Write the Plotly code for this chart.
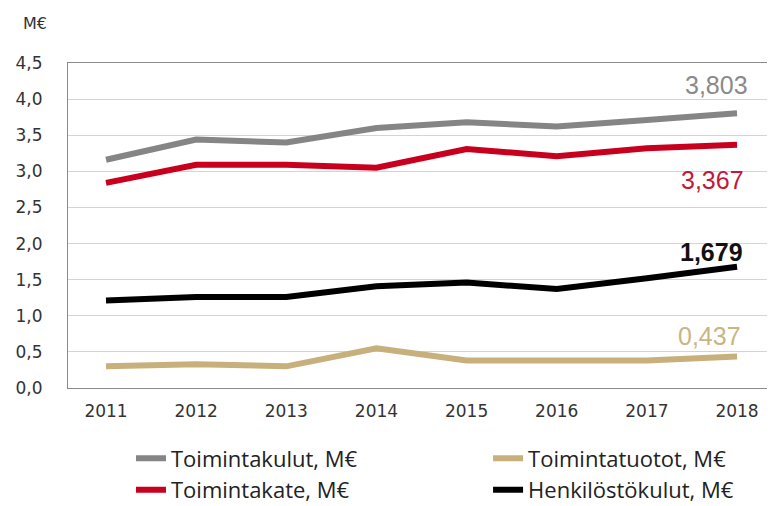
import plotly.graph_objects as go

years = ["2011", "2012", "2013", "2014", "2015", "2016", "2017", "2018"]
toimintakulut = [3.16, 3.44, 3.40, 3.60, 3.68, 3.62, 3.71, 3.803]
toimintakate = [2.84, 3.09, 3.09, 3.05, 3.31, 3.21, 3.32, 3.367]
henkilostokulut = [1.21, 1.26, 1.26, 1.41, 1.46, 1.37, 1.52, 1.679]
toimintatuotot = [0.30, 0.33, 0.30, 0.55, 0.38, 0.38, 0.38, 0.437]

names = ["Toimintakulut, M€", "Toimintatuotot, M€", "Toimintakate, M€", "Henkilöstökulut, M€"]
series = [toimintakulut, toimintatuotot, toimintakate, henkilostokulut]
colors = ["#858585", "#c8b07c", "#c8001e", "#000000"]
legend_ids = ["legend", "legend2", "legend", "legend2"]
label_colors = ["#8a8a8a", "#c9b583", "#c2183a", "#111111"]
end_labels = ["3,803", "0,437", "3,367", "1,679"]
label_dy = [28, 20, -35, 15]
label_dx = [13, 6, 9, 8]

fig = go.Figure()
for n, s, c, lg in zip(names, series, colors, legend_ids):
    fig.add_trace(go.Scatter(x=years, y=s, name=n, mode="lines", legend=lg,
                             line=dict(color=c, width=6)))

last = len(years) - 1
for s, c, lab, dy, dx in zip(series, label_colors, end_labels, label_dy, label_dx):
    txt = ("<b>%s</b>" % lab) if c == "#111111" else lab
    fig.add_annotation(x=last, y=s[-1], text=txt, showarrow=False,
                       xanchor="right", yanchor="middle", yshift=dy, xshift=dx,
                       font=dict(family="Liberation Sans, Arial", size=25, color=c))

fig.add_annotation(xref="paper", yref="paper", x=-0.047, y=1.123, text="M€",
                   showarrow=False, xanchor="center", yanchor="middle",
                   font=dict(family="DejaVu Sans", size=16, color="#333"))

legend_style = dict(orientation="v", xanchor="left", y=-0.152, yanchor="top",
                    tracegroupgap=0, bgcolor="rgba(0,0,0,0)",
                    font=dict(family="Open Sans", size=22, color="#222"))

fig.update_layout(
    width=767, height=540,
    margin=dict(l=60, r=1, t=55, b=160),
    paper_bgcolor="white", plot_bgcolor="white",
    font=dict(family="DejaVu Sans", size=17, color="#333"),
    showlegend=True,
    separators=",.",
    legend=dict(x=0.0892, **legend_style),
    legend2=dict(x=0.595, **legend_style),
)
fig.update_xaxes(type="category", range=[-0.4216, 7.41], showgrid=False,
                 showline=True, linecolor="#8a8a8a", linewidth=1, mirror=True,
                 ticks="", ticklabelstandoff=8,
                 tickfont=dict(family="DejaVu Sans", size=17, color="#333"))
fig.update_yaxes(range=[0, 4.5], dtick=0.5, tickformat=".1f",
                 showgrid=True, gridcolor="#d4d4d4", gridwidth=1,
                 showline=True, linecolor="#8a8a8a", linewidth=1, mirror=True,
                 ticks="", ticklabelstandoff=21,
                 tickfont=dict(family="DejaVu Sans", size=17, color="#333"),
                 zeroline=False)

fig.write_html("out.html")
